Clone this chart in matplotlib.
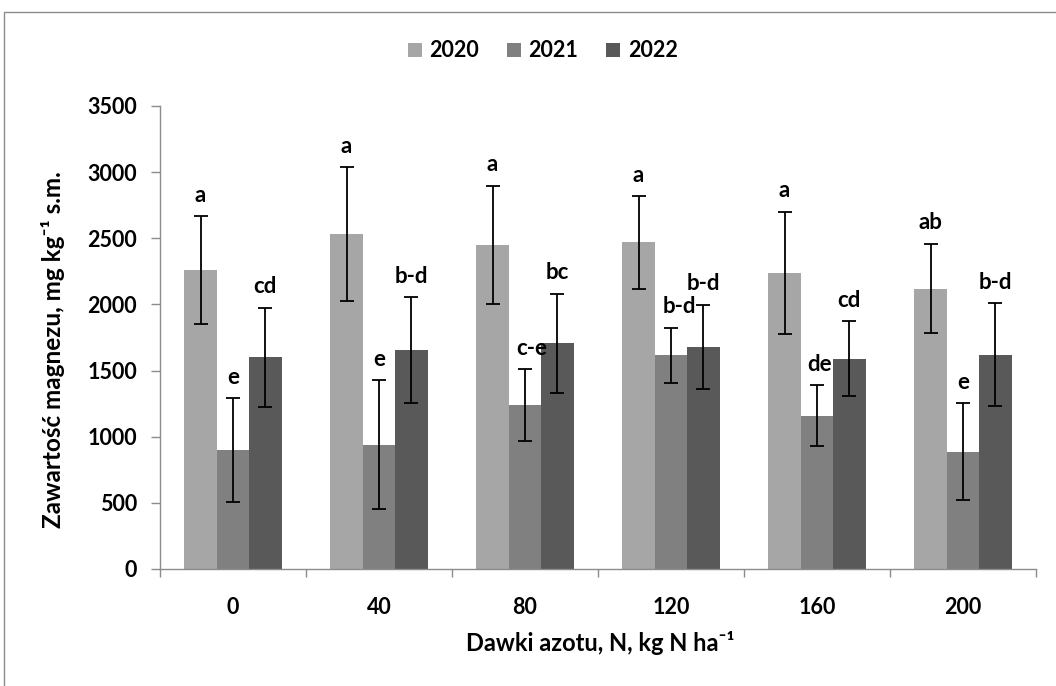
import matplotlib
matplotlib.use("Agg")
import matplotlib.pyplot as plt
import numpy as np
from matplotlib.patches import Rectangle

plt.rcParams['font.family'] = ['Lato', 'DejaVu Sans']
plt.rcParams['font.weight'] = 'bold'

# dawki azotu i lata
doses = ['0', '40', '80', '120', '160', '200']
years = ['2020', '2021', '2022']

mg_2020 = [2260, 2530, 2450, 2470, 2240, 2120]
mg_2021 = [900, 940, 1240, 1615, 1160, 887]
mg_2022 = [1600, 1655, 1705, 1677, 1590, 1620]

sd_2020 = [405, 505, 447, 350, 461, 339]
sd_2021 = [390, 486, 271, 208, 232, 368]
sd_2022 = [375, 398, 375, 320, 281, 388]

grp_2020 = ['a', 'a', 'a', 'a', 'a', 'ab']
grp_2021 = ['e', 'e', 'c-e', 'b-d', 'de', 'e']
grp_2022 = ['cd', 'b-d', 'bc', 'b-d', 'cd', 'b-d']

means = [mg_2020, mg_2021, mg_2022]
sds = [sd_2020, sd_2021, sd_2022]
groups = [grp_2020, grp_2021, grp_2022]
colors = ['#a6a6a6', '#808080', '#595959']

# przesunięcia liter w poziomie (pt), żeby nie nachodziły na słupki obok
nudge = {(1, 2): 5, (1, 3): 6, (1, 4): 2}

fig = plt.figure(figsize=(10.56, 6.86), dpi=100)
ax = fig.add_axes([0.1515, 0.1706, 0.8295, 0.6749])

# ramka wykresu
fig.patches.append(Rectangle((4 / 1056, -0.1), 1.2, 1.1 - 12.5 / 686,
                             transform=fig.transFigure, fill=False,
                             edgecolor='#8c8c8c', linewidth=1.0))

x = np.arange(len(doses))
w = 0.222
for i in range(3):
    xs = x + (i - 1) * w
    ax.bar(xs, means[i], width=w, color=colors[i], label=years[i], zorder=2)
    ax.errorbar(xs, means[i], yerr=sds[i], fmt='none', ecolor='black',
                elinewidth=1.3, capsize=4.7, capthick=1.3, zorder=3)
    for j in range(len(doses)):
        top = means[i][j] + sds[i][j]
        ax.annotate(groups[i][j], (xs[j], top),
                    xytext=(nudge.get((i, j), 0), 15), textcoords='offset points',
                    ha='center', va='center', fontsize=16, fontweight='bold')

ax.set_xlim(-0.5, len(doses) - 0.5)
ax.set_ylim(0, 3500)
ax.set_yticks(np.arange(0, 3501, 500))
ax.set_xticks(x)
ax.set_xticklabels(doses)
ax.set_xticks(np.arange(-0.5, len(doses)), minor=True)

for s in ['top', 'right']:
    ax.spines[s].set_visible(False)
for s in ['left', 'bottom']:
    ax.spines[s].set_color('#8c8c8c')
    ax.spines[s].set_linewidth(1.0)

ax.tick_params(axis='y', length=6.5, width=1.0, color='#8c8c8c', pad=10, labelsize=15.5)
ax.tick_params(axis='x', which='major', length=0, pad=20, labelsize=15.5)
ax.tick_params(axis='x', which='minor', length=6, width=1.0, color='#8c8c8c')

ax.set_ylabel('Zawartość magnezu, mg kg⁻¹ s.m.', fontsize=17.5, fontweight='bold', va='center')
ax.set_xlabel('Dawki azotu, N, kg N ha⁻¹', fontsize=17, fontweight='bold', va='center')
ax.yaxis.set_label_coords(-0.122, 0.473)
ax.xaxis.set_label_coords(0.503, -0.16)

ax.legend(loc='center', bbox_to_anchor=(0.437, 1 + 55 / 463), ncol=3, frameon=False,
          fontsize=15.5, handlelength=0.65, handleheight=0.65, handletextpad=0.35,
          columnspacing=1.3)

fig.savefig('out.png', dpi=100)
